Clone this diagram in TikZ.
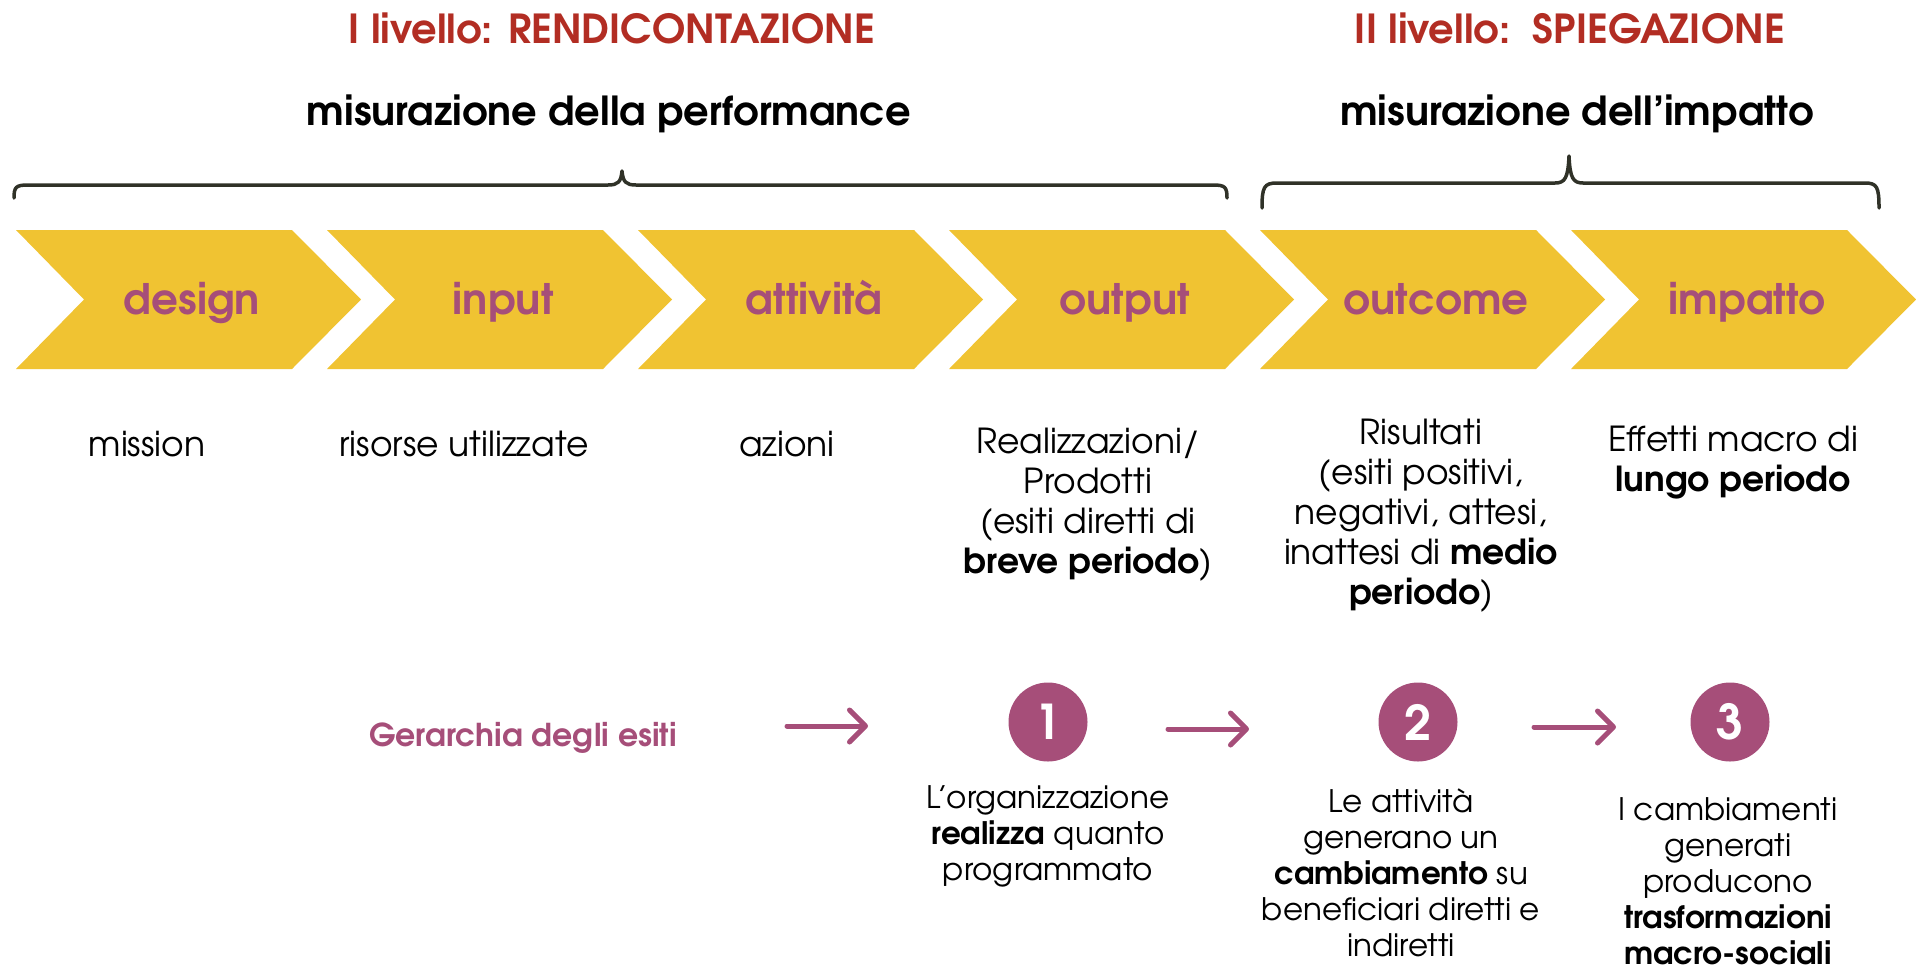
\documentclass[tikz,border=0pt]{standalone}
\usepackage{fontspec}
\setmainfont{TeX Gyre Adventor}
\usetikzlibrary{arrows.meta}
\definecolor{chev}{RGB}{240,195,50}
\definecolor{purp}{RGB}{166,78,121}
\definecolor{redt}{RGB}{178,45,35}
\definecolor{bracec}{RGB}{48,50,40}
\tikzset{
  chevlabel/.style={font=\fontsize{42}{48}\selectfont\bfseries, text=purp, inner sep=0pt, anchor=base},
  desc/.style={font=\fontsize{34.5}{40}\selectfont, align=center, inner sep=0pt},
  lowdesc/.style={font=\fontsize{31}{36}\selectfont, align=center, inner sep=0pt},
  title/.style={font=\fontsize{40}{44}\selectfont\bfseries, text=redt, inner sep=0pt},
  subtitle/.style={font=\fontsize{40}{44}\selectfont\bfseries, inner sep=0pt},
  bracepath/.style={draw=bracec, line width=3.5pt, line cap=round, line join=round},
  numcirc/.style={circle, fill=purp, minimum size=79pt, inner sep=0pt, text=white, font=\fontsize{48}{52}\selectfont\bfseries},
  harrow/.style={draw=purp, line width=5pt, line cap=round, -{Straight Barb[length=16pt,width=32pt,round]}}
}
\begin{document}
\begin{tikzpicture}[x=1pt,y=-1pt]
\useasboundingbox (0,0) rectangle (1916,970);
% titles
\node[title] (t1) at (612,28) {I livello: RENDICONTAZIONE};
\node[title] (t2) at (1570,28) {II livello:\ \ SPIEGAZIONE};
\node[subtitle] (s1) at (609,114) {misurazione della performance};
\node[subtitle] (s2) at (1577,114) {misurazione dell’impatto};
% braces
\path[bracepath] (14,198) .. controls (14,187) and (16,185) .. (28,185) -- (608,185)
  .. controls (618,185) and (621,182) .. (622,171)
  .. controls (623,182) and (626,185) .. (636,185) -- (1213,185)
  .. controls (1225,185) and (1227,187) .. (1227,198);
\path[bracepath] (1262,208) .. controls (1262,187) and (1264,183) .. (1277,183) -- (1555,183)
  .. controls (1565,183) and (1568,178) .. (1569,156)
  .. controls (1570,178) and (1573,183) .. (1583,183) -- (1865,183)
  .. controls (1877,183) and (1879,187) .. (1879,208);
% chevrons
\foreach \i/\lab/\nm in {0/design/cdesign,1/input/cinput,2/attività/cattivita,3/output/coutput,4/outcome/coutcome,5/impatto/cimpatto}{
  \pgfmathsetmacro{\xo}{16+311*\i}
  \fill[chev] (\xo,230) -- ++(276,0) -- ++(69,69.5) -- ++(-69,69.5) -- ++(-276,0) -- ++(68,-69.5) -- cycle;
  \node[chevlabel] (\nm) at (\xo+176,314) {\lab};
}
% descriptions
\node[desc] (dmission) at (147,444) {mission};
\node[desc] (drisorse) at (464,444) {risorse utilizzate};
\node[desc] (dazioni) at (787,444) {azioni};
\node[desc] (drealiz) at (1088,505) {Realizzazioni/\\Prodotti\\(esiti diretti di\\\textbf{breve periodo})};
\node[desc] (drisult) at (1421,516) {Risultati\\(esiti positivi,\\negativi, attesi,\\inattesi di \textbf{medio}\\\textbf{periodo})};
\node[desc] (deffetti) at (1733,463) {Effetti macro di\\\textbf{lungo periodo}};
% bottom
\node[font=\fontsize{31.5}{36}\selectfont\bfseries, text=purp, inner sep=0pt] (gerarchia) at (523,738) {Gerarchia degli esiti};
\node[numcirc] (n1) at (1048,722) {1};
\node[numcirc] (n2) at (1418,722) {2};
\node[numcirc] (n3) at (1730,722) {3};
\coordinate (a1s) at (787,726); \coordinate (a1e) at (868,726);
\coordinate (a2s) at (1168,729); \coordinate (a2e) at (1249,729);
\coordinate (a3s) at (1534,727); \coordinate (a3e) at (1616,727);
\draw[harrow] (a1s) -- (a1e);
\draw[harrow] (a2s) -- (a2e);
\draw[harrow] (a3s) -- (a3e);
\node[lowdesc] (l1) at (1048,836) {L’organizzazione\\\textbf{realizza} quanto\\programmato};
\node[lowdesc] (l2) at (1401,873) {Le attività\\generano un\\\textbf{cambiamento} su\\beneficiari diretti e\\indiretti};
\node[lowdesc] (l3) at (1728,881) {I cambiamenti\\generati\\producono\\\textbf{trasformazioni}\\\textbf{macro-sociali}};
\end{tikzpicture}
\end{document}
